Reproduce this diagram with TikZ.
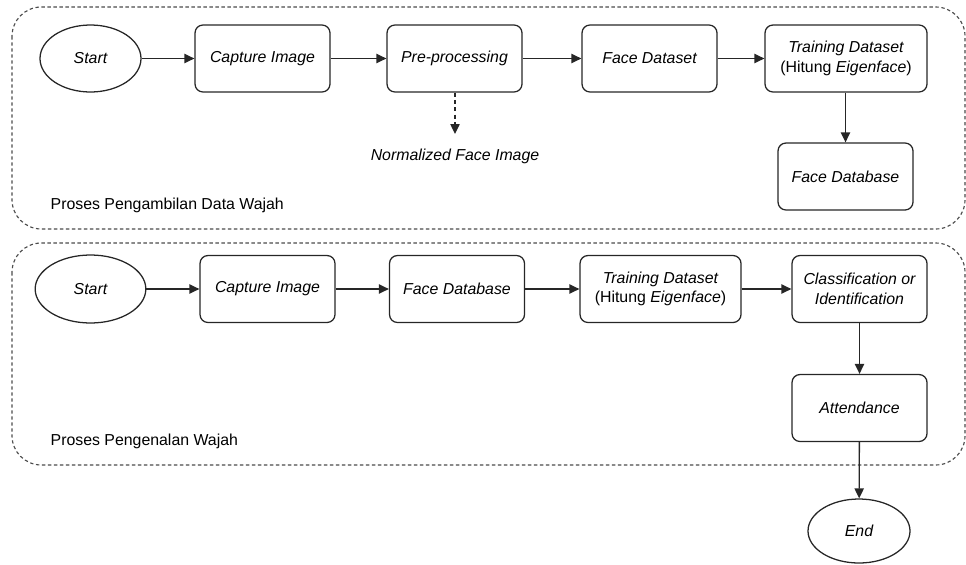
\documentclass[tikz,border=0pt]{standalone}
\usepackage{fontspec}
\setmainfont{Liberation Sans}
\usetikzlibrary{shapes}
\usetikzlibrary{arrows.meta}

\begin{document}
\begin{tikzpicture}[x=0.75pt, y=-0.75pt,
        every node/.style={font=\fontsize{11.9}{14.6}\selectfont},
        proc/.style={draw=black!85, rounded corners=6pt, line width=0.95pt, minimum width=101.25pt, minimum height=50.25pt, align=center, font=\fontsize{11.9}{14.6}\selectfont\itshape},
        term/.style={draw=black!85, ellipse, line width=0.95pt, inner sep=0pt, font=\fontsize{11.9}{14.6}\selectfont\itshape},
        flow/.style={-{Triangle[length=7.5pt, width=7pt]}, line width=1pt, draw=black!85},
        grp/.style={draw=black!70, dash pattern=on 2.5pt off 2pt, rounded corners=22pt, line width=0.85pt}]
    \useasboundingbox (0,0) rectangle (966,564);

    % kelompok proses
    \draw[grp] (12,7) rectangle (965,229);
    \draw[grp] (12,243) rectangle (965,465);
    \node[anchor=west] (lblAmbil) at (46,205) {Proses Pengambilan Data Wajah};
    \node[anchor=west] (lblKenal) at (46,441) {Proses Pengenalan Wajah};

    % pengambilan data wajah
    \node[term, minimum width=75.75pt, minimum height=50.25pt] (start1) at (90.5,58.5) {Start};
    \node[proc] (capture1) at (262.5,58.5) {Capture Image};
    \node[proc] (preproc) at (454.5,58.5) {Pre-processing};
    \node[proc] (faceset) at (649.5,58.5) {Face Dataset};
    \node[proc, minimum width=121.5pt] (train1) at (846,58.5) {Training Dataset\\\upshape(Hitung \itshape Eigenface\upshape)};
    \node[proc] (facedb1) at (845.5,176.5) {Face Database};
    \node[font=\fontsize{11.9}{14.6}\selectfont\itshape] (normface) at (455,156) {Normalized Face Image};
    \coordinate (normtip) at (455,134);

    \draw[flow] (start1) -- (capture1);
    \draw[flow] (capture1) -- (preproc);
    \draw[flow] (preproc) -- (faceset);
    \draw[flow] (faceset) -- (train1);
    \draw[flow] (train1.south -| facedb1) -- (facedb1);
    \draw[flow, dash pattern=on 3pt off 2.5pt] (preproc.south -| normtip) -- (normtip);

    % pengenalan wajah
    \node[term, minimum width=83pt, minimum height=51pt] (start2) at (90.5,289) {Start};
    \node[proc] (capture2) at (267.5,289) {Capture Image};
    \node[proc] (facedb2) at (457,289) {Face Database};
    \node[proc, minimum width=120.75pt] (train2) at (660.5,289) {Training Dataset\\\upshape(Hitung \itshape Eigenface\upshape)};
    \node[proc] (classif) at (859.5,289) {Classification or\\Identification};
    \node[proc] (attend) at (859.5,408) {Attendance};
    \node[term, minimum width=76.5pt, minimum height=48pt] (end) at (859,531) {End};

    \draw[flow] (start2) -- (capture2);
    \draw[flow] (capture2) -- (facedb2);
    \draw[flow] (facedb2) -- (train2);
    \draw[flow] (train2) -- (classif);
    \draw[flow] (classif) -- (attend);
    \draw[flow] (attend) -- (end);
\end{tikzpicture}
\end{document}
